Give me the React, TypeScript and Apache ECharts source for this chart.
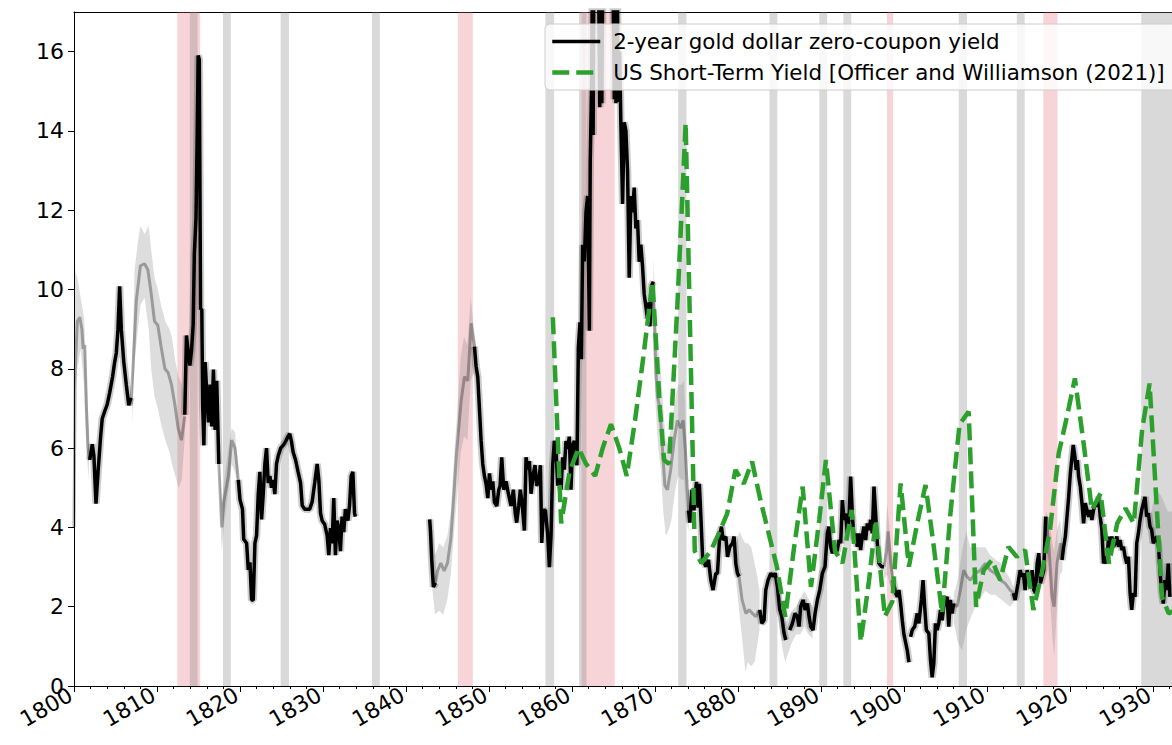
import React, { useEffect, useRef } from 'react';
import * as echarts from 'echarts';

// ---------- shaded periods ----------
const warSpans = [[1812.45, 1815.2], [1846.25, 1848.05], [1861.15, 1865.15], [1897.95, 1898.7], [1916.8, 1918.5]];
const panicSpans = [[1813.95, 1814.9], [1817.95, 1818.9], [1824.9, 1825.9], [1835.9, 1836.85], [1856.8, 1857.85], [1860.85, 1861.75], [1872.8, 1873.8], [1883.8, 1884.75], [1889.8, 1890.75], [1892.7, 1893.65], [1906.6, 1907.6], [1913.6, 1914.55], [1928.6, 1933.0]];

// ---------- 2-year gold dollar zero-coupon yield (reliable segments, black) ----------
const goldA1 = [[1801.9,5.7],[1802.2,6.1],[1802.4,5.8],[1802.65,4.6],[1802.9,5.4],[1803.2,6.27],[1803.4,6.74],[1803.7,6.93],[1804.0,7.1],[1804.3,7.4],[1804.65,7.8],[1804.9,8.17],[1805.1,8.4],[1805.3,9.0],[1805.5,10.08],[1805.7,9.0],[1806.0,8.17],[1806.3,7.6],[1806.6,7.08],[1806.85,7.27]];
const goldA2 = [[1813.35,6.84],[1813.55,8.84],[1813.75,8.46],[1813.96,8.08],[1814.16,8.46],[1814.36,9.12],[1814.5,10.9],[1814.7,11.8],[1814.85,14.0],[1814.96,15.9],[1815.1,15.8],[1815.25,9.5],[1815.4,9.5],[1815.5,7.1],[1815.65,6.07],[1815.8,8.17],[1816.0,7.4],[1816.2,6.65],[1816.4,7.6],[1816.6,6.55],[1816.8,7.98],[1817.0,6.46],[1817.2,7.7],[1817.45,5.6]];
const goldA3 = [[1819.8,5.2],[1820.0,4.7],[1820.3,4.46],[1820.45,3.7],[1820.8,3.6],[1821.0,2.93],[1821.2,3.12],[1821.4,2.17],[1821.6,2.17],[1821.8,3.6],[1822.0,3.8],[1822.2,4.84],[1822.4,5.4],[1822.6,4.2],[1822.8,4.84],[1823.0,5.6],[1823.2,6.0],[1823.4,5.12],[1823.6,5.3],[1823.8,5.0],[1824.0,5.2],[1824.2,4.84],[1824.4,5.6],[1824.6,5.8],[1824.9,6.0],[1825.2,6.07],[1825.5,6.17],[1825.8,6.3],[1826.0,6.36],[1826.2,6.17],[1826.4,5.9],[1826.7,5.7],[1827.0,5.4],[1827.3,5.12],[1827.5,4.55],[1827.8,4.46],[1828.1,4.46],[1828.4,4.46],[1828.7,4.65],[1829.0,5.12],[1829.3,5.6],[1829.5,5.2],[1829.7,4.36],[1829.9,4.17],[1830.2,4.08],[1830.5,3.8],[1830.7,3.3],[1830.9,3.98],[1831.1,3.6],[1831.3,4.74],[1831.5,3.3],[1831.7,4.17],[1831.9,3.98],[1832.1,3.4],[1832.3,4.27],[1832.5,3.88],[1832.7,4.46],[1833.0,4.17],[1833.2,4.55],[1833.4,5.3],[1833.6,5.4],[1833.8,4.36],[1833.9,4.27]];
const goldB1 = [[1842.85,4.2],[1842.95,3.9],[1843.1,3.2],[1843.3,2.5],[1843.55,2.6]];
const goldB2 = [[1848.25,8.56],[1848.45,8.06],[1848.65,7.8],[1849.05,6.2],[1849.25,5.6],[1849.45,5.3],[1849.65,5.1],[1849.86,4.74],[1850.06,5.36],[1850.26,4.95],[1850.46,5.16],[1850.66,4.64],[1850.94,4.54],[1851.18,4.95],[1851.34,5.05],[1851.54,5.77],[1851.78,4.95],[1852.06,5.16],[1852.34,4.85],[1852.66,4.54],[1852.94,4.95],[1853.18,4.33],[1853.34,4.12],[1853.58,4.54],[1853.78,4.95],[1853.98,4.64],[1854.27,3.92],[1854.47,5.77],[1854.67,5.46],[1854.87,5.67],[1855.07,4.85],[1855.35,5.36],[1855.55,5.57],[1855.75,5.05],[1856.0,5.16],[1856.2,5.57],[1856.36,3.61],[1856.56,4.43],[1856.8,4.43],[1857.08,3.81],[1857.28,3.0],[1857.48,3.81],[1857.68,5.57],[1857.88,6.18],[1858.08,5.98],[1858.28,5.05],[1858.48,5.36],[1858.68,4.95],[1858.88,5.77],[1859.08,5.46],[1859.28,6.18],[1859.48,5.98],[1859.68,6.29],[1859.88,4.95],[1860.08,6.08],[1860.28,6.18],[1860.48,5.67],[1860.6,5.57],[1860.77,8.55],[1860.97,9.17],[1861.13,8.24],[1861.29,11.13],[1861.49,10.71],[1861.69,11.95],[1861.89,12.36],[1862.1,8.96],[1862.2,13.19],[1862.37,15.25],[1862.45,17.6],[1862.55,13.9],[1862.65,18.5],[1862.9,19.5],[1863.2,18.0],[1863.35,14.6],[1863.5,18.5],[1863.6,14.7],[1863.75,19.0],[1864.1,20.0],[1864.5,19.0],[1864.9,18.5],[1865.1,14.8],[1865.2,17.8],[1865.3,14.7],[1865.45,18.0],[1865.6,14.73],[1865.75,16.0],[1865.9,14.1],[1866.1,12.16],[1866.3,14.22],[1866.5,14.0],[1866.7,12.98],[1866.9,10.3],[1867.1,12.36],[1867.3,11.95],[1867.5,12.57],[1867.7,11.54],[1867.9,11.75],[1868.1,10.7],[1868.3,11.13],[1868.5,10.6],[1868.7,9.89],[1868.9,9.58],[1869.1,9.27],[1869.3,9.68],[1869.4,9.07],[1869.6,10.1],[1869.8,10.2]];
const goldB3 = [[1874.05,4.43],[1874.2,4.12],[1874.45,4.95],[1874.7,4.43],[1875.0,5.15],[1875.2,4.5],[1875.35,5.1],[1875.55,4.2],[1875.75,3.2],[1876.13,3.01],[1876.45,3.18],[1876.73,2.67],[1877.0,2.42],[1877.33,2.84],[1877.53,2.84],[1877.82,3.85],[1878.02,4.02],[1878.22,3.68],[1878.54,3.77],[1878.74,3.26],[1879.02,3.51],[1879.34,3.6],[1879.54,3.77],[1879.74,3.09],[1879.94,2.84],[1880.14,2.76]];
const goldB4 = [[1882.63,1.92],[1882.87,1.58],[1883.15,1.66],[1883.35,2.42],[1883.63,2.67],[1883.95,2.84],[1884.23,2.76],[1884.48,2.84],[1884.76,2.5],[1885.04,1.92],[1885.28,1.75],[1885.56,1.33],[1885.76,1.16]];
const goldB4b = [[1886.24,1.41],[1886.56,1.58],[1886.88,1.83],[1887.16,1.75],[1887.36,1.5],[1887.56,2.0],[1887.85,2.17],[1888.09,1.92],[1888.37,2.08],[1888.57,1.75],[1888.77,1.5],[1889.05,1.41],[1889.29,1.83],[1889.57,2.17],[1889.85,2.42],[1890.17,2.84],[1890.49,3.01],[1890.77,3.85],[1890.97,4.02],[1891.17,3.51],[1891.38,3.35],[1891.58,3.6],[1891.78,3.35],[1891.98,3.43],[1892.18,3.68],[1892.38,3.6],[1892.58,4.69],[1892.78,4.19],[1892.98,4.35],[1893.18,3.85],[1893.38,4.19],[1893.58,5.28],[1893.78,4.35],[1893.98,3.68],[1894.18,3.85],[1894.38,3.51],[1894.58,3.85],[1894.78,3.43],[1894.98,3.77],[1895.18,4.02],[1895.39,3.68],[1895.59,4.1],[1895.79,3.93],[1895.99,4.19],[1896.19,3.85],[1896.39,5.03],[1896.59,4.35],[1896.79,3.6],[1896.99,3.09],[1897.31,3.01],[1897.59,3.01]];
const goldB5 = [[1898.7,2.67],[1899.0,2.34],[1899.2,2.25],[1899.4,2.42],[1899.6,2.08],[1899.8,1.66],[1900.0,1.3],[1900.2,1.1],[1900.4,0.9],[1900.6,0.6]];
const goldB5b = [[1900.8,1.24],[1901.0,1.41],[1901.3,1.5],[1901.6,1.83],[1901.8,1.58],[1902.1,2.17],[1902.3,2.67],[1902.5,2.0],[1902.7,1.41],[1903.0,1.33],[1903.2,0.66],[1903.4,0.22],[1903.6,0.57],[1903.8,1.58],[1904.0,1.41],[1904.2,1.58],[1904.4,1.92],[1904.6,1.66],[1904.8,2.0],[1905.0,2.17],[1905.2,2.25],[1905.4,1.5],[1905.6,2.17],[1905.8,1.83],[1906.0,2.08]];
const goldB6 = [[1913.2,2.34],[1913.4,2.17],[1913.75,2.59],[1914.0,2.92],[1914.2,2.76],[1914.4,2.84],[1914.6,2.42],[1914.85,2.92],[1915.05,2.76],[1915.25,2.59],[1915.45,2.92],[1915.65,2.42],[1915.85,2.34],[1916.05,3.09],[1916.25,3.35],[1916.45,2.59],[1916.65,2.76],[1916.85,2.92],[1917.05,4.1],[1917.1,4.27]];
const goldB7 = [[1919.05,3.18],[1919.25,3.51],[1919.45,3.77],[1919.65,4.27],[1919.85,4.77],[1920.05,5.36],[1920.25,5.78],[1920.4,6.08],[1920.6,5.78],[1920.75,5.45],[1920.9,5.7],[1921.05,5.28],[1921.25,5.03],[1921.45,4.61],[1921.65,4.1],[1921.85,4.61],[1922.05,4.44],[1922.25,4.27],[1922.45,4.44],[1922.65,4.19],[1922.85,4.44],[1923.05,4.61],[1923.25,4.52],[1923.45,4.77],[1923.65,4.27],[1923.85,3.94],[1924.05,3.09],[1924.25,3.26],[1924.45,3.09],[1924.65,3.77],[1924.85,3.43],[1925.05,3.77],[1925.25,3.51],[1925.45,3.6],[1925.65,3.77],[1925.85,3.51],[1926.05,3.68],[1926.25,3.43],[1926.45,3.51],[1926.65,3.26],[1926.85,3.09],[1927.05,3.26],[1927.25,2.34],[1927.45,1.92],[1927.65,2.34],[1927.85,2.25],[1928.05,3.6],[1928.25,3.85],[1928.45,4.19],[1928.65,4.44],[1928.85,4.61],[1929.05,4.77],[1929.25,4.27],[1929.45,4.36],[1929.65,4.02],[1929.85,3.94],[1930.05,3.6],[1930.25,3.68],[1930.45,3.77],[1930.65,3.6],[1930.85,2.92],[1931.05,2.34],[1931.25,2.08],[1931.45,2.67],[1931.65,2.42],[1931.85,3.09],[1932.05,2.25]];

// ---------- full estimate where less reliable (grey line) ----------
const grayA1 = [[1800.0,4.0],[1800.15,8.0],[1800.4,9.2],[1800.7,9.3],[1800.95,9.0],[1801.1,8.5],[1801.3,8.6],[1801.5,7.0],[1801.7,6.0],[1801.9,5.7]];
const grayA2 = [[1806.85,7.1],[1807.1,8.0],[1807.5,9.7],[1808.0,10.6],[1808.5,10.65],[1808.9,10.5],[1809.3,9.9],[1809.7,9.2],[1810.1,9.1],[1810.5,8.55],[1810.95,8.0],[1811.35,7.9],[1811.75,7.6],[1812.15,7.1],[1812.55,6.5],[1812.95,6.2],[1813.35,6.8]];
const grayA3 = [[1817.45,5.6],[1817.8,4.0],[1818.05,4.65],[1818.6,5.3],[1819.0,6.2],[1819.4,6.0],[1819.8,5.2]];
const grayB1 = [[1843.55,2.6],[1843.8,2.9],[1844.2,3.1],[1844.6,2.9],[1845.0,3.1],[1845.4,3.7],[1845.8,4.9],[1846.1,5.9],[1846.65,7.2],[1847.05,7.8],[1847.45,7.7],[1847.85,9.15],[1848.25,8.56]];
const grayB2 = [[1869.8,10.2],[1870.1,8.0],[1870.3,7.3],[1870.6,7.0],[1870.9,6.0],[1871.2,5.05],[1871.5,4.95],[1871.9,5.46],[1872.3,6.18],[1872.7,6.7],[1873.1,6.5],[1873.4,6.7],[1873.65,6.0],[1873.9,4.95],[1874.05,4.43]];
const grayB3 = [[1880.14,2.76],[1880.5,2.17],[1880.95,1.83],[1881.35,1.92],[1881.75,1.83],[1882.15,1.75],[1882.63,1.92]];
const grayB4 = [[1897.59,3.01],[1897.9,3.4],[1898.1,3.9],[1898.4,3.1],[1898.7,2.67]];
const grayB5 = [[1906.0,2.08],[1906.4,2.0],[1906.8,2.42],[1907.2,2.92],[1907.6,2.76],[1908.0,2.67],[1908.6,2.84],[1909.2,2.92],[1909.8,3.09],[1910.4,2.92],[1911.0,2.84],[1911.6,2.67],[1912.2,2.59],[1912.8,2.42],[1913.2,2.34]];
const grayB6 = [[1917.1,4.27],[1917.45,3.6],[1917.85,2.25],[1918.1,2.0],[1918.45,3.09],[1918.85,3.6],[1919.05,3.18]];

// ---------- confidence band [year, lower, upper] ----------
const bandA1 = [[1800.0,3.7,4.5],[1800.15,7.5,10.5],[1800.4,8.0,10.3],[1800.8,8.5,9.8],[1801.2,7.6,9.3],[1801.5,5.9,8.0],[1801.8,5.2,6.3]];
const bandA2 = [[1807.0,6.6,7.8],[1807.3,8.2,10.5],[1807.7,9.0,11.2],[1808.0,9.6,11.6],[1808.5,9.8,11.4],[1809.0,9.0,11.6],[1809.3,8.0,11.0],[1809.7,7.3,10.3],[1810.1,7.0,10.0],[1810.5,6.6,9.6],[1811.0,6.2,9.2],[1811.5,5.9,9.0],[1811.8,5.6,8.8],[1812.2,5.3,8.2],[1812.6,5.0,7.8],[1813.0,5.2,7.6],[1813.35,6.3,7.2]];
const bandA3 = [[1817.5,5.3,5.9],[1817.8,3.4,4.6],[1818.1,4.1,5.2],[1818.6,4.9,6.0],[1819.0,5.6,6.5],[1819.4,5.4,6.4],[1819.8,4.9,5.5]];
const bandB1 = [[1843.0,2.8,4.4],[1843.5,1.8,3.3],[1844.0,1.9,3.6],[1844.5,1.8,3.5],[1845.0,2.2,3.8],[1845.4,2.8,4.4],[1845.8,3.9,5.8],[1846.2,4.9,7.0],[1846.6,5.9,8.3],[1847.0,6.3,8.8],[1847.4,6.2,8.6],[1847.8,7.7,9.8],[1848.2,7.9,9.0],[1848.5,7.6,8.5]];
const bandB2 = [[1869.8,8.5,10.8],[1870.1,7.0,9.3],[1870.4,6.0,8.5],[1870.7,5.5,8.0],[1871.0,4.4,7.0],[1871.3,3.8,6.2],[1871.6,3.9,6.1],[1872.0,4.2,6.6],[1872.4,4.9,7.2],[1872.8,5.3,7.6],[1873.2,5.2,7.6],[1873.5,5.2,7.7],[1873.8,4.2,6.2],[1874.05,3.9,5.0]];
const bandB3 = [[1879.8,2.6,3.6],[1880.2,1.8,3.9],[1880.6,1.0,3.7],[1880.9,0.35,3.6],[1881.2,0.6,3.6],[1881.6,0.5,3.5],[1882.0,0.6,3.1],[1882.3,1.0,2.8],[1882.6,1.4,2.4]];
const bandB3b = [[1884.5,2.3,3.1],[1885.0,1.5,2.4],[1885.4,0.9,2.0],[1885.7,0.6,1.6],[1886.0,0.8,1.7],[1886.5,1.1,1.9],[1887.0,1.3,2.0],[1887.5,1.3,2.2],[1888.0,1.5,2.4],[1888.5,1.3,2.2],[1889.0,1.2,2.0]];
const bandB4 = [[1897.6,2.7,3.3],[1898.0,2.8,4.6],[1898.4,2.5,3.6],[1898.7,2.3,3.0]];
const bandB5 = [[1906.0,1.6,2.3],[1906.5,1.1,2.7],[1907.0,0.9,3.4],[1907.5,1.4,3.9],[1908.0,1.7,3.5],[1908.6,2.0,3.5],[1909.2,2.2,3.5],[1909.8,2.4,3.5],[1910.4,2.3,3.3],[1911.0,2.3,3.2],[1911.6,2.2,3.1],[1912.2,2.1,2.9],[1912.8,2.0,2.7],[1913.2,2.1,2.5]];
const bandB6 = [[1917.1,3.9,4.4],[1917.5,2.6,4.2],[1917.9,1.2,3.6],[1918.1,0.75,3.4],[1918.4,1.8,3.9],[1918.8,2.8,4.2],[1919.1,2.9,3.6]];
const bandB7 = [[1929.8,3.8,4.4],[1930.2,3.6,4.8],[1930.6,3.4,4.9],[1931.0,2.6,4.8],[1931.4,2.5,4.6],[1931.8,2.6,4.4],[1932.3,2.4,4.4]];

// ---------- US Short-Term Yield [Officer and Williamson (2021)] ----------
const usShortYield = [[1857.7,9.3],[1858.7,4.1],[1859.7,5.4],[1860.8,6.0],[1861.7,5.6],[1862.8,5.3],[1863.7,6.0],[1864.7,6.6],[1865.7,6.0],[1866.6,5.3],[1867.6,6.7],[1868.6,8.3],[1869.7,10.2],[1870.6,7.0],[1871.1,5.7],[1871.7,5.6],[1872.7,9.6],[1873.7,14.2],[1874.8,3.4],[1875.6,3.1],[1876.7,3.4],[1877.7,3.85],[1878.7,4.35],[1879.7,5.45],[1880.7,5.1],[1881.7,5.66],[1882.7,4.7],[1883.7,3.85],[1884.7,3.0],[1885.7,1.75],[1886.7,3.4],[1887.8,5.03],[1888.8,2.5],[1889.8,4.2],[1890.6,5.7],[1891.7,3.4],[1892.6,3.1],[1893.7,4.44],[1894.8,1.12],[1895.8,2.67],[1896.6,4.19],[1897.7,1.75],[1898.6,2.13],[1899.6,5.11],[1900.6,3.01],[1901.6,4.1],[1902.6,5.07],[1903.6,3.51],[1904.6,1.83],[1905.6,4.35],[1906.7,6.6],[1907.8,6.92],[1908.7,2.0],[1909.6,2.92],[1910.6,3.18],[1911.6,2.67],[1912.6,3.51],[1913.6,3.26],[1914.6,3.43],[1915.6,1.92],[1916.6,2.84],[1917.6,3.94],[1918.65,5.87],[1919.65,6.8],[1920.6,7.76],[1921.65,6.12],[1922.65,4.44],[1923.7,4.86],[1924.7,3.09],[1925.7,4.1],[1926.7,4.48],[1927.7,4.1],[1928.7,6.46],[1929.6,7.63],[1930.5,4.36],[1931.1,2.25],[1931.9,1.83],[1932.6,1.9]];

const goldSegments = [goldA1, goldA2, goldA3, goldB1, goldB2, goldB3, goldB4, goldB4b, goldB5, goldB5b, goldB6, goldB7];
const graySegments = [grayA1, grayA2, grayA3, grayB1, grayB2, grayB3, grayB4, grayB5, grayB6];
const bandSegments = [bandA1, bandA2, bandA3, bandB1, bandB2, bandB3, bandB3b, bandB4, bandB5, bandB6, bandB7];

const X_MIN = 1800;
const X_MAX = 1932.3;
const Y_MIN = 0;
const Y_MAX = 17;
const FONT = 'DejaVu Sans';
const GOLD_NAME = '2-year gold dollar zero-coupon yield';
const US_NAME = 'US Short-Term Yield [Officer and Williamson (2021)]';

function joinSegments(segs: number[][][]) {
  const out: any[] = [];
  segs.forEach((s, i) => {
    if (i > 0) out.push([s[0][0], '-']);
    s.forEach((p) => out.push(p));
  });
  return out;
}

function spanSeries(spans: number[][], color: string) {
  return {
    type: 'custom',
    silent: true,
    data: spans.map((s) => [s[0], s[1], 0]),
    encode: { x: [0, 1], y: 2 },
    renderItem: (params: any, api: any) => {
      const a = api.coord([api.value(0), Y_MAX]);
      const b = api.coord([api.value(1), Y_MIN]);
      const cs = params.coordSys;
      const r = echarts.graphic.clipRectByRect(
        { x: a[0], y: a[1], width: b[0] - a[0], height: b[1] - a[1] },
        { x: cs.x, y: cs.y, width: cs.width, height: cs.height }
      );
      return r ? { type: 'rect', shape: r, style: { fill: color } } : null;
    },
  };
}

function bandSeries(seg: number[][]) {
  return {
    type: 'custom',
    silent: true,
    data: seg,
    encode: { x: 0, y: [1, 2] },
    renderItem: (params: any, api: any) => {
      if (params.dataIndex !== 0) return null;
      const upper = seg.map((p) => api.coord([p[0], p[2]]));
      const lower = seg.map((p) => api.coord([p[0], p[1]])).reverse();
      return { type: 'polygon', shape: { points: upper.concat(lower) }, style: { fill: 'rgba(128,128,128,0.27)' } };
    },
  };
}

export default function App() {
  const ref = useRef<HTMLDivElement>(null);
  useEffect(() => {
    const chart = echarts.init(ref.current!, null, { renderer: 'svg' });
    const goldData = joinSegments(goldSegments);
    const grayData = joinSegments(graySegments);
    const option: any = {
      animation: false,
      backgroundColor: '#ffffff',
      grid: { left: 74, right: 0, top: 12, bottom: 59, containLabel: false },
      legend: {
        data: [GOLD_NAME, US_NAME],
        orient: 'vertical',
        left: 545,
        top: 24,
        itemWidth: 48,
        itemHeight: 20,
        itemGap: 10,
        padding: [7, 12, 7, 5],
        backgroundColor: 'rgba(255,255,255,0.8)',
        borderColor: '#cccccc',
        borderWidth: 1,
        borderRadius: 5,
        itemStyle: { color: 'rgba(0,0,0,0)', borderWidth: 0, opacity: 0 },
        lineStyle: { width: 'inherit' },
        textStyle: { fontSize: 21.4, fontFamily: FONT, color: '#000', padding: [0, 0, 0, 8] },
        z: 20,
      },
      xAxis: [
        {
          type: 'value',
          min: X_MIN,
          max: X_MAX,
          interval: 10,
          position: 'bottom',
          axisLine: { show: true, onZero: false, lineStyle: { color: '#000', width: 1 } },
          axisTick: { show: true, length: 6, lineStyle: { color: '#000', width: 1 } },
          minorTick: { show: true, splitNumber: 5, length: 3, lineStyle: { color: '#000', width: 1 } },
          splitLine: { show: false },
          minorSplitLine: { show: false },
          axisLabel: {
            rotate: 30,
            fontSize: 22,
            fontFamily: FONT,
            color: '#000',
            margin: 5,
            padding: [0, 4, 0, 0],
            showMaxLabel: false,
            formatter: (v: number) => String(v),
          },
        },
        {
          type: 'value',
          min: X_MIN,
          max: X_MAX,
          position: 'top',
          axisLine: { show: true, onZero: false, lineStyle: { color: '#000', width: 1 } },
          axisTick: { show: false },
          axisLabel: { show: false },
          splitLine: { show: false },
        },
      ],
      yAxis: {
        type: 'value',
        min: Y_MIN,
        max: Y_MAX,
        interval: 2,
        axisLine: { show: true, onZero: false, lineStyle: { color: '#000', width: 1 } },
        axisTick: { show: true, length: 6, lineStyle: { color: '#000', width: 1 } },
        splitLine: { show: false },
        axisLabel: {
          fontSize: 22,
          fontFamily: FONT,
          color: '#000',
          margin: 10,
          showMaxLabel: false,
          formatter: (v: number) => String(v),
        },
      },
      series: [
        spanSeries(warSpans, 'rgba(225,100,110,0.28)'),
        spanSeries(panicSpans, 'rgba(128,128,128,0.3)'),
        ...bandSegments.map((s) => bandSeries(s)),
        {
          name: 'gray estimate',
          type: 'line',
          data: grayData,
          symbol: 'none',
          showSymbol: false,
          silent: true,
          clip: true,
          lineStyle: { color: 'rgba(0,0,0,0.3)', width: 3 },
        },
        {
          name: 'gold halo',
          type: 'line',
          data: goldData,
          symbol: 'none',
          showSymbol: false,
          silent: true,
          clip: true,
          lineStyle: { color: 'rgba(0,0,0,0.2)', width: 7.5 },
        },
        {
          name: GOLD_NAME,
          type: 'line',
          data: goldData,
          symbol: 'none',
          showSymbol: false,
          clip: true,
          itemStyle: { color: '#000000' },
          lineStyle: { color: '#000000', width: 3.5 },
        },
        {
          name: US_NAME,
          type: 'line',
          data: usShortYield,
          symbol: 'none',
          showSymbol: false,
          clip: true,
          itemStyle: { color: '#2ca02c' },
          lineStyle: { color: '#2ca02c', width: 4.5, type: [17, 7] },
        },
      ],
    };
    chart.setOption(option);
    return () => chart.dispose();
  }, []);
  return <div ref={ref} style={{ position: 'fixed', left: 0, top: 0, width: 1172, height: 745 }} />;
}
